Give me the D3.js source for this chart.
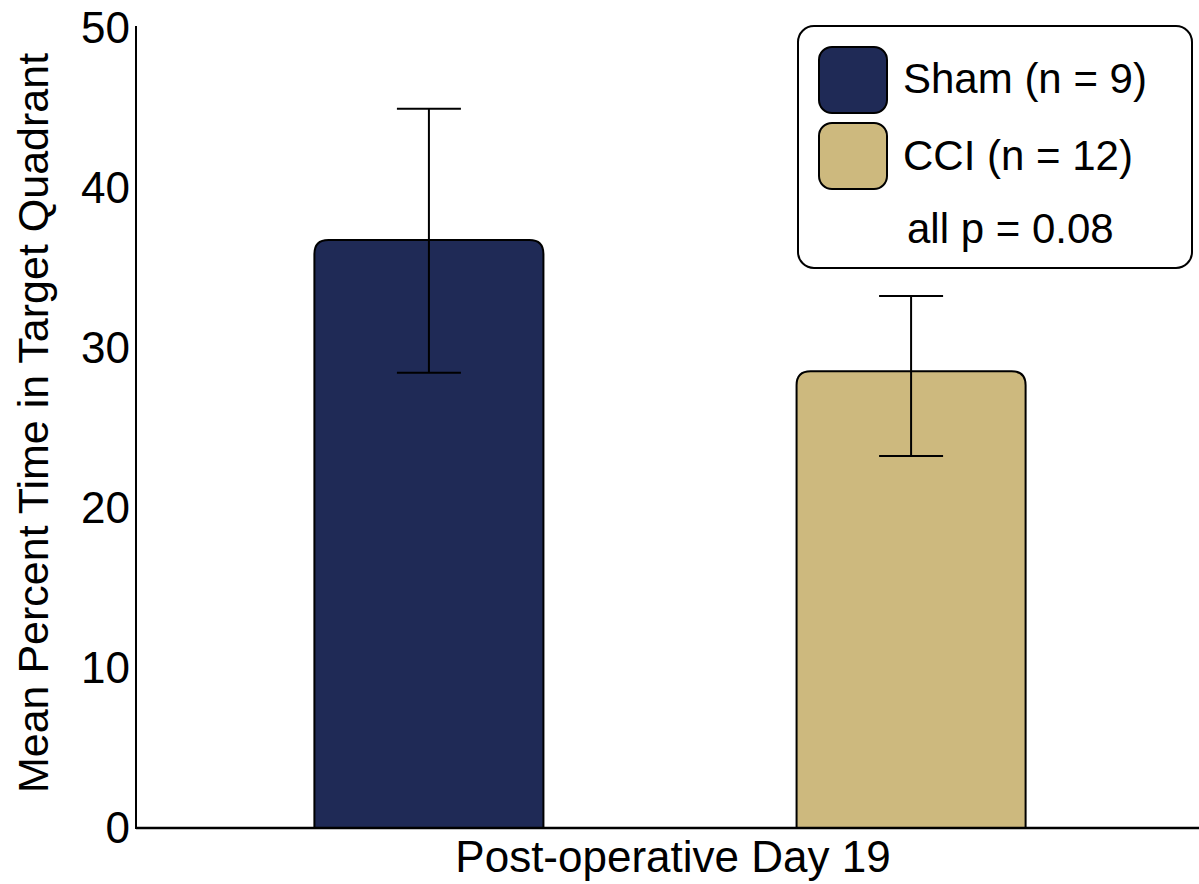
<!DOCTYPE html>
<html>
<head>
<meta charset="utf-8">
<script src="https://cdn.jsdelivr.net/npm/d3@7"></script>
<style>
  html, body { margin: 0; padding: 0; background: #fff; }
  svg { display: block; }
  text { font-family: "Liberation Sans", Arial, sans-serif; fill: #000; }
</style>
</head>
<body>
<svg id="chart" width="1199" height="884"></svg>
<script>
// ---- data ----
const categories = ["Sham (n = 9)", "CCI (n = 12)"];
const groups = ["Sham", "CCI"];
const means = [36.75, 28.55];
const errLow = [28.45, 23.25];
const errHigh = [44.95, 33.25];
const colors = ["#1f2a56", "#cdb97e"];
const yTicks = [0, 10, 20, 30, 40, 50];
const xLabel = "Post-operative Day 19";
const yLabel = "Mean Percent Time in Target Quadrant";
const statNote = "all p = 0.08";

const svg = d3.select("#chart");

const y = d3.scaleLinear().domain([0, 50]).range([828, 28]);
const x = d3.scaleBand().domain(groups).range([136, 1204]).paddingInner(0.525).paddingOuter(0.37);

// y axis
const yAxis = svg.append("g").attr("transform", "translate(136,0)")
  .call(d3.axisLeft(y).tickValues(yTicks).tickSize(0).tickSizeOuter(0).tickPadding(6));
yAxis.select(".domain").remove();
yAxis.selectAll("text").style("font-size", "44px").attr("font-family", "Liberation Sans, Arial, sans-serif");
svg.append("line").attr("x1", 136).attr("x2", 136).attr("y1", 26).attr("y2", 829)
  .attr("stroke", "#000").attr("stroke-width", 2);

// bars (rounded top corners)
const r = 14;
function barPath(x0, w, yTop, yBot) {
  return `M${x0},${yBot} L${x0},${yTop + r} Q${x0},${yTop} ${x0 + r},${yTop} ` +
    `L${x0 + w - r},${yTop} Q${x0 + w},${yTop} ${x0 + w},${yTop + r} L${x0 + w},${yBot} Z`;
}
svg.selectAll("path.bar").data(groups).join("path")
  .attr("class", "bar")
  .attr("d", (g, i) => barPath(x(g), x.bandwidth(), y(means[i]), y(0)))
  .attr("fill", (g, i) => colors[i])
  .attr("stroke", "#000").attr("stroke-width", 2);

// x axis line
svg.append("line").attr("x1", 136).attr("x2", 1199).attr("y1", 828).attr("y2", 828)
  .attr("stroke", "#000").attr("stroke-width", 2.5);

// error bars
const capW = 64;
const eb = svg.selectAll("g.err").data(groups).join("g").attr("class", "err");
eb.append("line")
  .attr("x1", g => x(g) + x.bandwidth() / 2).attr("x2", g => x(g) + x.bandwidth() / 2)
  .attr("y1", (g, i) => y(errHigh[i])).attr("y2", (g, i) => y(errLow[i]))
  .attr("stroke", "#000").attr("stroke-width", 2);
eb.append("line")
  .attr("x1", g => x(g) + x.bandwidth() / 2 - capW / 2).attr("x2", g => x(g) + x.bandwidth() / 2 + capW / 2)
  .attr("y1", (g, i) => y(errHigh[i])).attr("y2", (g, i) => y(errHigh[i]))
  .attr("stroke", "#000").attr("stroke-width", 2);
eb.append("line")
  .attr("x1", g => x(g) + x.bandwidth() / 2 - capW / 2).attr("x2", g => x(g) + x.bandwidth() / 2 + capW / 2)
  .attr("y1", (g, i) => y(errLow[i])).attr("y2", (g, i) => y(errLow[i]))
  .attr("stroke", "#000").attr("stroke-width", 2);

// axis labels
svg.append("text").attr("x", 673).attr("y", 872).attr("text-anchor", "middle")
  .style("font-size", "44px").text(xLabel);
svg.append("text").attr("transform", "translate(48,423) rotate(-90)").attr("text-anchor", "middle")
  .style("font-size", "43px").text(yLabel);

// legend
const lg = svg.append("g");
lg.append("rect").attr("x", 798).attr("y", 26).attr("width", 394).attr("height", 242)
  .attr("rx", 16).attr("ry", 16).attr("fill", "#fff").attr("stroke", "#000").attr("stroke-width", 2);
const swY = [47, 123];
const txtY = [93, 170];
categories.forEach((c, i) => {
  lg.append("rect").attr("x", 819).attr("y", swY[i]).attr("width", 68).attr("height", 66)
    .attr("rx", 13).attr("ry", 13).attr("fill", colors[i]).attr("stroke", "#000").attr("stroke-width", 2);
  lg.append("text").attr("x", 903).attr("y", txtY[i]).style("font-size", "42px").text(c);
});
lg.append("text").attr("x", 907).attr("y", 243).style("font-size", "42px").text(statNote);
</script>
</body>
</html>
